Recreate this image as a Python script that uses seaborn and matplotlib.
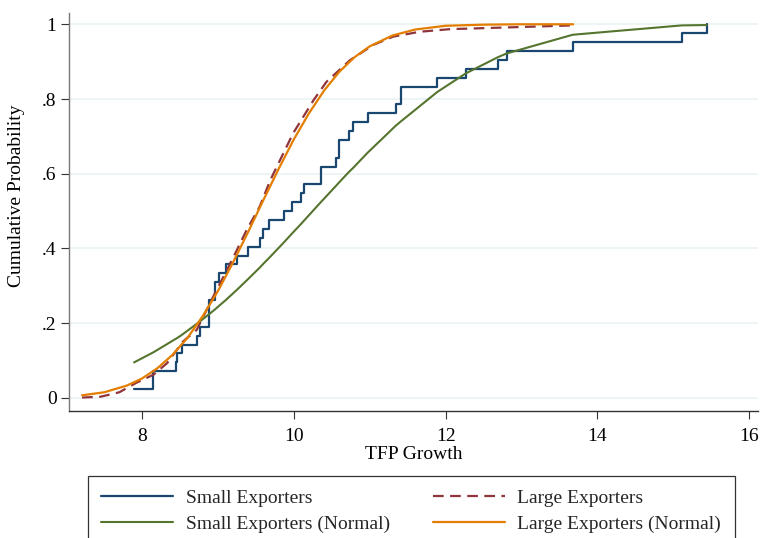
import numpy as np
import matplotlib
matplotlib.use("Agg")
import matplotlib.pyplot as plt
import seaborn as sns

# TFP growth of the 42 small exporters
small_tfp = [7.895, 8.149, 8.149, 8.444, 8.461, 8.527, 8.719, 8.764,
             8.883, 8.883, 8.883, 8.962, 8.962, 9.018, 9.104, 9.254,
             9.397, 9.557, 9.598, 9.676, 9.868, 9.976, 10.088, 10.132,
             10.356, 10.356, 10.553, 10.593, 10.593, 10.727, 10.783, 10.971,
             11.340, 11.410, 11.410, 11.891, 12.269, 12.690, 12.805, 13.675,
             15.111, 15.440]

# normal cdf for small exporters, evaluated at the sample points
small_norm_x = [7.895, 8.149, 8.444, 8.461, 8.527, 8.719, 8.764, 8.883, 8.962,
                9.018, 9.104, 9.254, 9.397, 9.557, 9.598, 9.676, 9.868, 9.976,
                10.088, 10.132, 10.356, 10.553, 10.593, 10.727, 10.783, 10.971,
                11.340, 11.410, 11.891, 12.269, 12.690, 12.805, 13.675, 15.111,
                15.440]
small_norm_cdf = [0.095, 0.122, 0.158, 0.160, 0.169, 0.198, 0.205, 0.224, 0.237,
                  0.247, 0.262, 0.290, 0.318, 0.350, 0.359, 0.375, 0.416, 0.440,
                  0.464, 0.474, 0.524, 0.567, 0.576, 0.605, 0.616, 0.656,
                  0.728, 0.740, 0.819, 0.869, 0.912, 0.922, 0.972, 0.997,
                  0.998]

# large exporters, empirical cdf (dense sample -> read as a curve)
large_x = [7.21, 7.45, 7.70, 7.93, 8.15, 8.33, 8.54, 8.72, 8.85, 8.96, 9.12,
           9.25, 9.38, 9.55, 9.69, 9.99, 10.26, 10.43, 10.74, 11.05, 11.31,
           11.66, 12.06, 12.72, 13.20, 13.68]
large_cdf = [0.001, 0.003, 0.015, 0.041, 0.062, 0.093, 0.151, 0.182, 0.235,
             0.280, 0.343, 0.396, 0.450, 0.512, 0.583, 0.708, 0.797, 0.846,
             0.904, 0.945, 0.967, 0.980, 0.987, 0.991, 0.994, 0.997]

# large exporters, normal cdf
large_norm_x = [7.21, 7.50, 7.80, 8.00, 8.20, 8.40, 8.60, 8.80, 9.00, 9.20,
                9.40, 9.60, 9.80, 10.00, 10.20, 10.40, 10.60, 10.80, 11.00,
                11.30, 11.60, 12.00, 12.50, 13.00, 13.68]
large_norm_cdf = [0.007, 0.015, 0.033, 0.052, 0.079, 0.115, 0.161, 0.219,
                  0.286, 0.363, 0.445, 0.530, 0.613, 0.692, 0.762, 0.823,
                  0.873, 0.912, 0.941, 0.970, 0.986, 0.996, 0.999, 1.000,
                  1.000]

xticks = [8, 10, 12, 14, 16]
yticks = [0, 0.2, 0.4, 0.6, 0.8, 1.0]
ytick_labels = ["0", ".2", ".4", ".6", ".8", "1"]

sns.set_theme(style="white")
plt.rcParams["font.family"] = ["Liberation Serif", "DejaVu Serif"]

fig = plt.figure(figsize=(7.61, 5.38), dpi=100)
ax = fig.add_axes([0.0907, 0.2361, 0.9054, 0.7403])

vals, counts = np.unique(small_tfp, return_counts=True)
small_cdf = np.cumsum(counts) / len(small_tfp)

sns.lineplot(x=vals, y=small_cdf, drawstyle="steps-post", estimator=None,
             color="#1a476f", lw=1.6, label="Small Exporters", ax=ax)
sns.lineplot(x=large_x, y=large_cdf, estimator=None, color="#90353b", lw=1.6,
             linestyle=(0, (4.8, 2.9)), label="Large Exporters", ax=ax)
sns.lineplot(x=small_norm_x, y=small_norm_cdf, estimator=None, color="#55752f",
             lw=1.5, label="Small Exporters (Normal)", ax=ax)
sns.lineplot(x=large_norm_x, y=large_norm_cdf, estimator=None, color="#e37e00",
             lw=1.6, label="Large Exporters (Normal)", ax=ax)

ax.set_xlim(7.038, 16.116)
ax.set_ylim(-0.035, 1.031)
ax.set_xticks(xticks)
ax.set_yticks(yticks)
ax.set_yticklabels(ytick_labels)
ax.tick_params(bottom=True, left=True, length=6, width=0.8, color="#333333",
               labelsize=14, labelcolor="black")
ax.tick_params(axis="x", pad=6)
ax.tick_params(axis="y", pad=3)

ax.yaxis.grid(True, color="#eaf2f3", lw=1.2)
ax.xaxis.grid(False)
ax.set_axisbelow(True)

sns.despine(ax=ax)
ax.spines["left"].set_color("#777777")
ax.spines["bottom"].set_color("#333333")
ax.spines["left"].set_linewidth(1.0)
ax.spines["bottom"].set_linewidth(1.0)

ax.set_xlabel("TFP Growth", fontsize=14, labelpad=1, color="black")
ax.set_ylabel("Cumulative Probability", fontsize=14, color="black")
ax.yaxis.set_label_coords(-0.064, 0.54)

handles, labels = ax.get_legend_handles_labels()
order = [0, 2, 1, 3]
leg = ax.legend([handles[i] for i in order], [labels[i] for i in order],
                ncol=2, loc="upper left",
                bbox_to_anchor=(0.1152, 0.1152),
                bbox_transform=fig.transFigure, borderaxespad=0,
                fontsize=14, handlelength=3.7, handletextpad=0.65,
                labelspacing=0.42, borderpad=0.7, columnspacing=2.2,
                fancybox=False, framealpha=1)
leg.get_frame().set_edgecolor("#333333")
leg.get_frame().set_linewidth(0.9)

fig.savefig("out.png", dpi=100)
